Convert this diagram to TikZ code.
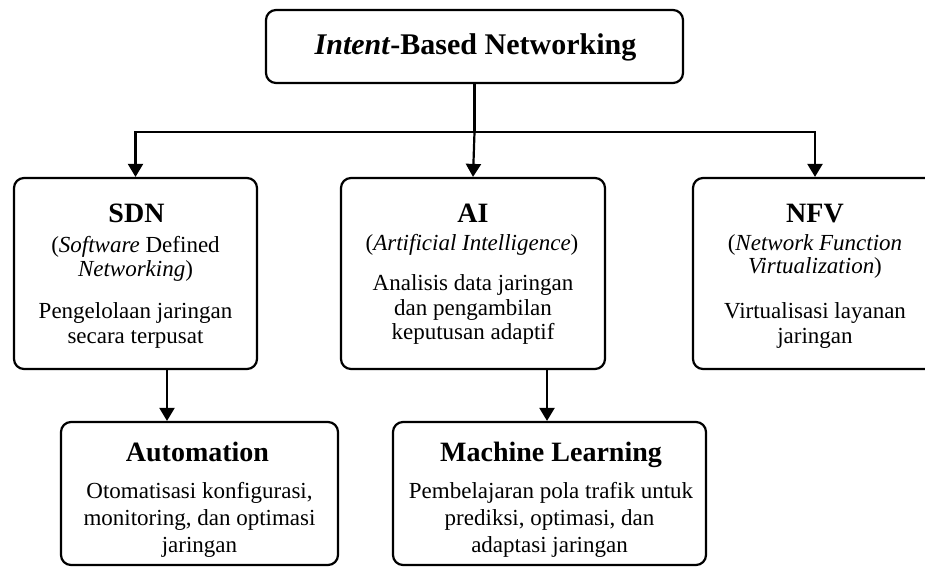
\documentclass[tikz,border=0pt]{standalone}
\usepackage{fontspec}
\setmainfont{Liberation Serif}
\usetikzlibrary{arrows.meta}

\begin{document}
\begin{tikzpicture}[x=1pt,y=-1pt,
  box/.style={draw=black, line width=2.2pt, rounded corners=10pt, inner sep=0pt, fill=white},
  txt/.style={anchor=base, inner sep=0pt, align=center},
  head/.style={txt, font=\fontsize{28}{31}\selectfont\bfseries},
  body/.style={txt, font=\fontsize{23}{26}\selectfont},
  wire/.style={line width=2.2pt},
  arr/.style={wire, -{Triangle[width=15pt,length=13pt]}}
]
\useasboundingbox[fill=white] (0,0) rectangle (925,567);

% boxes
\node[box, minimum width=417pt, minimum height=73pt] (ibn) at (474.5,46.5) {};
\node[box, minimum width=243pt, minimum height=191pt] (sdn) at (135.5,273.5) {};
\node[box, minimum width=264pt, minimum height=191pt] (ai) at (473,273.5) {};
\node[box, minimum width=244pt, minimum height=191pt] (nfv) at (815,273.5) {};
\node[box, minimum width=277pt, minimum height=143pt] (auto) at (199.5,493.5) {};
\node[box, minimum width=313pt, minimum height=143pt] (ml) at (549.5,493.5) {};

% title
\node[txt, font=\fontsize{30}{34}\selectfont\bfseries] (ibnT) at (475.5,55) {\textit{Intent}-Based Networking};

% SDN
\node[head] (sdnH) at (136.5,222) {SDN};
\node[body] (sdnA) at (135.5,252) {(\textit{Software} Defined};
\node[body] (sdnB) at (135.5,276) {\textit{Networking})};
\node[body] (sdnC) at (135.5,318) {Pengelolaan jaringan};
\node[body] (sdnD) at (135.5,343) {secara terpusat};

% AI
\node[head] (aiH) at (473,222) {AI};
\node[body] (aiA) at (472,250) {(\textit{Artificial Intelligence})};
\node[body] (aiB) at (473,290) {Analisis data jaringan};
\node[body] (aiC) at (473,315) {dan pengambilan};
\node[body] (aiD) at (473,339) {keputusan adaptif};

% NFV
\node[head] (nfvH) at (815,222) {NFV};
\node[body] (nfvA) at (815,250) {(\textit{Network Function}};
\node[body] (nfvB) at (815,273) {\textit{Virtualization})};
\node[body] (nfvC) at (815,318) {Virtualisasi layanan};
\node[body] (nfvD) at (815,343) {jaringan};

% Automation
\node[head] (autoH) at (197.5,461) {Automation};
\node[body] (autoA) at (199.5,498) {Otomatisasi konfigurasi,};
\node[body] (autoB) at (199.5,525) {monitoring, dan optimasi};
\node[body] (autoC) at (199.5,552) {jaringan};

% Machine Learning
\node[head] (mlH) at (551,461) {Machine Learning};
\node[body] (mlA) at (551,498) {Pembelajaran pola trafik untuk};
\node[body] (mlB) at (549.5,525) {prediksi, optimasi, dan};
\node[body] (mlC) at (549.5,552) {adaptasi jaringan};

% connectors
\coordinate (bus) at (ibn.south |- 0,132);
\coordinate (busL) at (sdn.north |- bus);
\coordinate (busR) at (nfv.north |- bus);
\draw[wire] (ibn.south) -- (bus);
\draw[wire] ([xshift=-1.1pt]busL) -- ([xshift=1.1pt]busR);
\draw[arr] (busL) -- (sdn.north);
\draw[arr] (bus) -- (ai.north);
\draw[arr] (busR) -- (nfv.north);

\path (sdn.south) ++(31.5,0) coordinate (sdnOut);
\draw[arr] (sdnOut) -- (sdnOut |- auto.north);
\path (ai.south) ++(74,0) coordinate (aiOut);
\draw[arr] (aiOut) -- (aiOut |- ml.north);
\end{tikzpicture}
\end{document}
